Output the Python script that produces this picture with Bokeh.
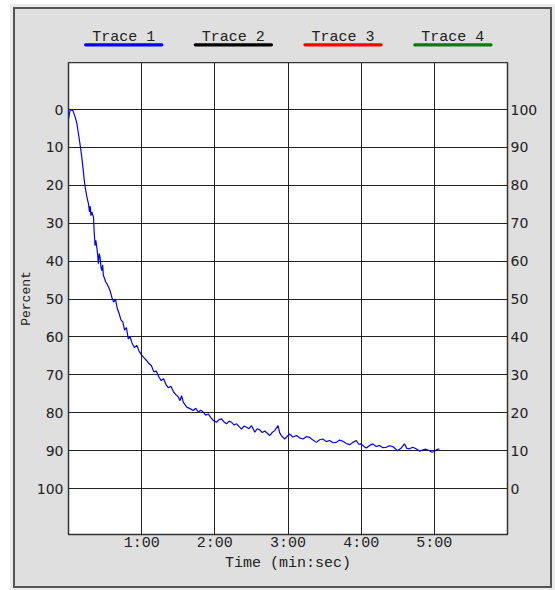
from bokeh.plotting import figure
from bokeh.layouts import column
from bokeh.models import Range1d, LinearAxis, FixedTicker
from bokeh.core.properties import value
from bokeh.embed import file_html
from bokeh.resources import INLINE

# ---- data (time in seconds, value in percent) ----
time_s = [0, 1.4, 3.6, 5.5, 6.9, 8.2, 9.6, 10.9, 11.8, 12.8, 13.7, 15.0, 16.4, 17.2, 17.8,
          18.4, 19.1, 20.5, 21.0, 21.8, 22.4, 23.2, 23.8, 24.5, 25.2, 25.9, 26.6, 27.3, 28.0,
          28.6, 29.5, 30.5, 31.6, 32.8, 34.1, 35.5, 37, 38.5, 40, 41.5, 43, 44.5, 46, 47.5,
          49, 50.5, 52, 54, 56, 58, 60, 62, 64, 66, 68, 70, 72, 74, 76, 78, 80, 82, 84, 86,
          88, 90, 91.4, 92.7, 94.1, 96.9, 99.6, 102.3, 104.4, 106.4, 108.5, 110.5, 112.5,
          114.6, 116.6, 118.6, 121.4, 123.5, 125.5, 127.5, 129.6, 131.6, 133.7, 135.7, 137.8,
          139.8, 141.9, 144, 146, 148, 150.1, 152.8, 154.8, 156.8, 158.9, 160.9, 163, 165,
          167, 169.1, 171.8, 173.2, 174.6, 177.3, 179.4, 181.4, 184, 186.9, 189.5, 192.3,
          195, 197.8, 200.5, 203.2, 206, 208.6, 211.4, 214.1, 217, 219.6, 222.3, 225, 227.8,
          230.5, 233.2, 236, 238, 240, 242, 244.2, 247, 249.6, 252.3, 255, 257.8, 260.5,
          263.2, 265.9, 268, 270, 272.8, 275.5, 277.5, 279.6, 282.3, 285, 287.8, 290.5,
          293.2, 296, 298, 300, 302, 304.1]
percent = [2.5, 0, 0.3, 2, 3.8, 6.4, 9.5, 12.6, 15.2, 18.3, 20.5, 23, 24.9, 27, 25.5,
           28, 27, 28.4, 32, 35.9, 34.5, 36.3, 38, 40.7, 38, 39, 41.5, 42.5, 41,
           43.8, 44.5, 45.5, 46, 46.8, 47.8, 49.5, 50.8, 50, 52.5, 53.8, 55.5, 56, 58.2, 57.5,
           60.5, 60, 61.5, 62.8, 62.2, 63.8, 64.8, 65.5, 66.2, 67, 67.6, 69.2, 69, 70.5, 71.5,
           71, 72.6, 73.4, 73, 74.4, 75.2, 75.8, 76.8, 75.5, 77.2, 78.5, 78.9, 79.4, 78.8,
           79.8, 79.3, 79.8, 80.6, 80.3, 81.2, 82, 82.5, 81.8, 81.6, 82.4, 82.9, 82.2, 82.5,
           83.2, 82.9, 83.6, 84.3, 83.5, 83.8, 84.2, 83.4, 85.1, 84.2, 84.5, 85.2, 84.8, 85.4,
           86, 85.2, 84.7, 83.4, 85.3, 86, 86.9, 86.2, 85.6, 86.4, 86, 86.6, 86.9, 86.3, 86.5,
           87.2, 87.8, 87.1, 86.9, 87.6, 87.3, 87.9, 87.8, 87.2, 87.5, 88.1, 88.4, 87.8, 87.3,
           88.3, 88.2, 88.8, 89.3, 88.6, 88.2, 88.9, 88.6, 89.2, 89.1, 88.7, 88.9, 89.5, 90,
           89.3, 88.2, 89.4, 89.5, 89.1, 89.5, 90.1, 89.8, 89.6, 90, 90.4, 90.2, 89.7, 89.5]

y_ticks = [0, 10, 20, 30, 40, 50, 60, 70, 80, 90, 100]
right_ticks = [100, 90, 80, 70, 60, 50, 40, 30, 20, 10, 0]
x_ticks = [60, 120, 180, 240, 300]
x_tick_labels = ["1:00", "2:00", "3:00", "4:00", "5:00"]
trace_names = ["Trace 1", "Trace 2", "Trace 3", "Trace 4"]
trace_colors = ["#0000ff", "#000000", "#ff0000", "#008000"]
x_title = "Time (min:sec)"
y_title = "Percent"

MONO = "Liberation Mono"
SANS = "DejaVu Sans"
TXT = "#222222"
BG = "#dfdfdf"
W = 535

# ---------------- main chart ----------------
p = figure(width=W, height=524, output_backend="svg", toolbar_location=None, title=None,
           x_range=Range1d(0, 360), y_range=Range1d(112.1, -12.4),
           min_border_left=53, min_border_right=43, min_border_top=0, min_border_bottom=52,
           background_fill_color="white", border_fill_color=BG)
p.outline_line_color = "#333333"
p.outline_line_width = 1.5

p.extra_y_ranges = {"right": Range1d(-12.1, 112.4)}
right_axis = LinearAxis(y_range_name="right")
p.add_layout(right_axis, "right")

p.xaxis.ticker = FixedTicker(ticks=x_ticks)
p.xaxis.major_label_overrides = dict(zip(x_ticks, x_tick_labels))
p.yaxis[0].ticker = FixedTicker(ticks=y_ticks)
right_axis.ticker = FixedTicker(ticks=right_ticks)

for ax in [p.xaxis[0], p.yaxis[0], right_axis]:
    ax.axis_line_color = None
    ax.major_tick_line_color = None
    ax.minor_tick_line_color = None
    ax.major_tick_out = 0
    ax.major_tick_in = 0
    ax.major_label_text_color = TXT

p.xaxis.major_label_text_font = MONO
p.xaxis.major_label_text_font_size = "15px"
p.xaxis.major_label_standoff = 0
p.xaxis.axis_label = x_title
p.xaxis.axis_label_text_font = MONO
p.xaxis.axis_label_text_font_size = "15px"
p.xaxis.axis_label_text_font_style = "normal"
p.xaxis.axis_label_text_color = TXT
p.xaxis.axis_label_standoff = 0

p.yaxis[0].major_label_text_font = SANS
p.yaxis[0].major_label_text_font_size = "14px"
p.yaxis[0].major_label_standoff = 5
p.yaxis[0].axis_label = y_title
p.yaxis[0].axis_label_text_font = MONO
p.yaxis[0].axis_label_text_font_size = "13px"
p.yaxis[0].axis_label_text_font_style = "normal"
p.yaxis[0].axis_label_text_color = TXT
p.yaxis[0].axis_label_standoff = 0

right_axis.major_label_text_font = SANS
right_axis.major_label_text_font_size = "14px"
right_axis.major_label_standoff = 3

p.xgrid.grid_line_color = "#222222"
p.ygrid.grid_line_color = "#222222"

p.line(time_s, percent, line_color="#0000ff", line_width=1.2)

# ---------------- legend strip above ----------------
leg = figure(width=W, height=53, output_backend="svg", toolbar_location=None, title=None,
             x_range=p.x_range, y_range=Range1d(53, 0),
             x_axis_type=None, y_axis_type=None,
             min_border_left=53, min_border_right=43, min_border_top=0, min_border_bottom=0,
             background_fill_color=BG, border_fill_color=BG)
leg.outline_line_color = None
leg.grid.visible = False

centers = [45.3, 135.2, 225.1, 315.2]
leg.text(x=centers, y=[27.5] * 4, text=trace_names, text_font=value(MONO),
         text_font_size="15px", text_color=TXT, text_align="center",
         text_baseline="alphabetic")
leg.segment(x0=[c - 31.2 for c in centers], x1=[c + 31.2 for c in centers],
            y0=[35.3] * 4, y1=[35.3] * 4, line_color=trace_colors,
            line_width=3.3, line_cap="round")

layout = column(leg, p, spacing=0,
                styles={"margin-left": "15px", "margin-top": "9px",
                        "background-color": BG,
                        "outline": "2px solid #555555",
                        "box-shadow": "0 0 0 5px #ebebeb"})

open("out.html", "w").write(file_html(layout, INLINE))
